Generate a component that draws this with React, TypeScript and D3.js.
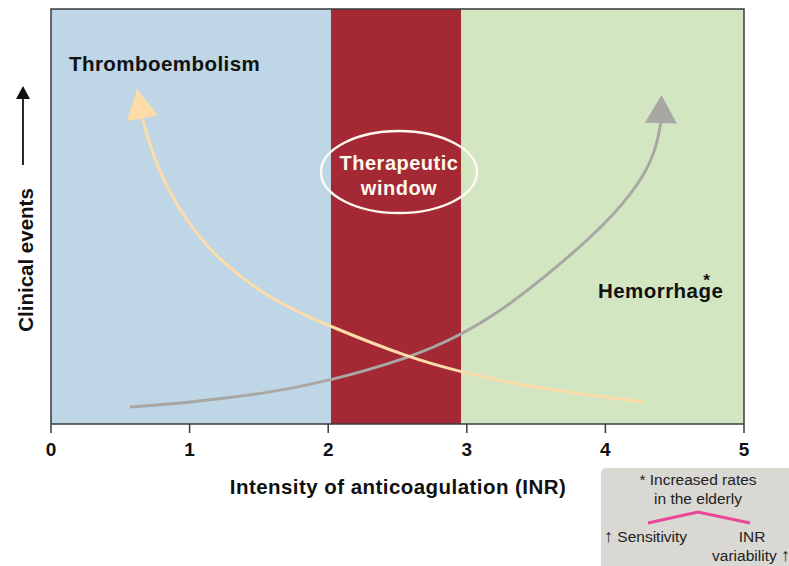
import React from "react";
import * as d3 from "d3";

// INR bands (start, end)
const bandNames = ["subtherapeutic", "therapeutic", "excess"];
const bandStarts = [0, 2.02, 2.96];
const bandEnds = [2.02, 2.96, 5];
const bandColors = ["#bed6e5", "#a52835", "#d2e6c2"];

const xTicks = [0, 1, 2, 3, 4, 5];

// thromboembolism curve (INR, relative events), arrow points upward at low INR
const thromboINR = [0.66, 0.7, 0.78, 0.9, 1.05, 1.22, 1.46, 1.7, 2.02, 2.59, 2.96, 3.38, 3.87, 4.27];
const thromboEvents = [73.7, 68.5, 61.0, 53.0, 45.8, 39.5, 33.0, 28.2, 23.4, 15.9, 12.5, 9.4, 7.0, 5.3];
const thromboTip = [0.62, 80.7];

// hemorrhage curve
const bleedINR = [0.57, 1.0, 1.56, 1.99, 2.59, 2.96, 3.29, 3.65, 4.01, 4.25, 4.36, 4.4];
const bleedEvents = [4.1, 5.2, 7.4, 10.2, 15.9, 21.4, 28.2, 37.8, 48.4, 58.1, 65.5, 72.5];
const bleedTip = [4.405, 79.3];

const W = 789;
const H = 566;
const left = 51;
const right = 744;
const top = 9;
const bottom = 424;
const font = "'Liberation Sans', Arial, Helvetica, sans-serif";

function arrowHead(tip: number[], base: number[], half: number) {
  const dx = tip[0] - base[0];
  const dy = tip[1] - base[1];
  const len = Math.sqrt(dx * dx + dy * dy);
  const nx = -dy / len;
  const ny = dx / len;
  return [
    [tip[0], tip[1]],
    [base[0] + nx * half, base[1] + ny * half],
    [base[0] - nx * half, base[1] - ny * half],
  ]
    .map((p) => p.join(","))
    .join(" ");
}

export default function App() {
  const x = d3.scaleLinear().domain([0, 5]).range([left, right]);
  const y = d3.scaleLinear().domain([0, 100]).range([bottom, top]);

  const line = d3
    .line<[number, number]>()
    .x((d) => x(d[0]))
    .y((d) => y(d[1]))
    .curve(d3.curveBasis);

  const thromboPts = thromboINR.map((v, i) => [v, thromboEvents[i]] as [number, number]);
  const bleedPts = bleedINR.map((v, i) => [v, bleedEvents[i]] as [number, number]);
  const tEnd = thromboPts[0];
  const bEnd = bleedPts[bleedPts.length - 1];

  return (
    <svg
      width={W}
      height={H}
      style={{ position: "absolute", left: 0, top: 0, background: "#fff" }}
      fontFamily={font}
    >
      {bandNames.map((n, i) => (
        <rect
          key={n}
          x={x(bandStarts[i])}
          y={top}
          width={x(bandEnds[i]) - x(bandStarts[i])}
          height={bottom - top}
          fill={bandColors[i]}
        />
      ))}
      {/* frame */}
      <path
        d={`M${left},${bottom}V${top}H${right}V${bottom}`}
        fill="none"
        stroke="#3a3a3a"
        strokeWidth={1.5}
      />
      <line x1={left} x2={right} y1={bottom} y2={bottom} stroke="#3a3a3a" strokeWidth={1.5} />
      {xTicks.map((t) => (
        <g key={t} transform={`translate(${x(t)},0)`}>
          <line y1={bottom} y2={bottom + 9} stroke="#3a3a3a" strokeWidth={1.5} />
          <text y={456} textAnchor="middle" fontSize={19} fontWeight="bold" fill="#111">
            {t}
          </text>
        </g>
      ))}

      {/* curves */}
      <path d={line(bleedPts) || ""} fill="none" stroke="#a9a7a3" strokeWidth={3} />
      <path d={line(thromboPts) || ""} fill="none" stroke="#fddcaa" strokeWidth={3} />
      <polygon
        points={arrowHead([x(thromboTip[0]), y(thromboTip[1])], [x(tEnd[0]), y(tEnd[1])], 16)}
        fill="#fddcaa"
      />
      <polygon
        points={arrowHead([x(bleedTip[0]), y(bleedTip[1])], [x(bEnd[0]), y(bEnd[1])], 16)}
        fill="#a9a7a3"
      />

      {/* therapeutic window */}
      <ellipse cx={399} cy={172} rx={78} ry={41} fill="none" stroke="#fdf9ee" strokeWidth={2.5} />
      <g fontSize={20} fontWeight="bold" fill="#fdf9ee" textAnchor="middle" letterSpacing={0.5}>
        <text x={399} y={170}>Therapeutic</text>
        <text x={399} y={195}>window</text>
      </g>

      <text x={69} y={71} fontSize={20.5} fontWeight="bold" fill="#111" letterSpacing={0.45}>
        Thromboembolism
      </text>
      <text x={598} y={298} fontSize={20.5} fontWeight="bold" fill="#111" letterSpacing={0.45}>
        Hemorrhage
        <tspan dx={-20} dy={-12} fontSize={17}>*</tspan>
      </text>

      {/* axis titles */}
      <text
        x={398}
        y={494}
        textAnchor="middle"
        fontSize={20.5}
        fontWeight="bold"
        fill="#111"
        letterSpacing={0.45}
      >
        Intensity of anticoagulation (INR)
      </text>
      <text
        transform="translate(33,260) rotate(-90)"
        textAnchor="middle"
        fontSize={20.5}
        fontWeight="bold"
        fill="#111"
      >
        Clinical events
      </text>
      <line x1={23} x2={23} y1={165} y2={97} stroke="#111" strokeWidth={1.8} />
      <polygon points="23,86 16,99 30,99" fill="#111" />

      {/* note box */}
      <rect x={601} y={468} width={200} height={110} rx={5} fill="#d9d8d3" />
      <g fontSize={15.5} fill="#222" textAnchor="middle">
        <text x={698} y={485}>* Increased rates</text>
        <text x={698} y={504}>in the elderly</text>
        <text x={604} y={542} textAnchor="start">
          <tspan fontSize={18}>↑</tspan> Sensitivity
        </text>
        <text x={752} y={542}>INR</text>
        <text x={790} y={561} textAnchor="end">
          variability <tspan fontSize={18}>↑</tspan>
        </text>
      </g>
      <polyline
        points="648,523 698,512 750,523"
        fill="none"
        stroke="#e8479a"
        strokeWidth={3}
      />
    </svg>
  );
}
